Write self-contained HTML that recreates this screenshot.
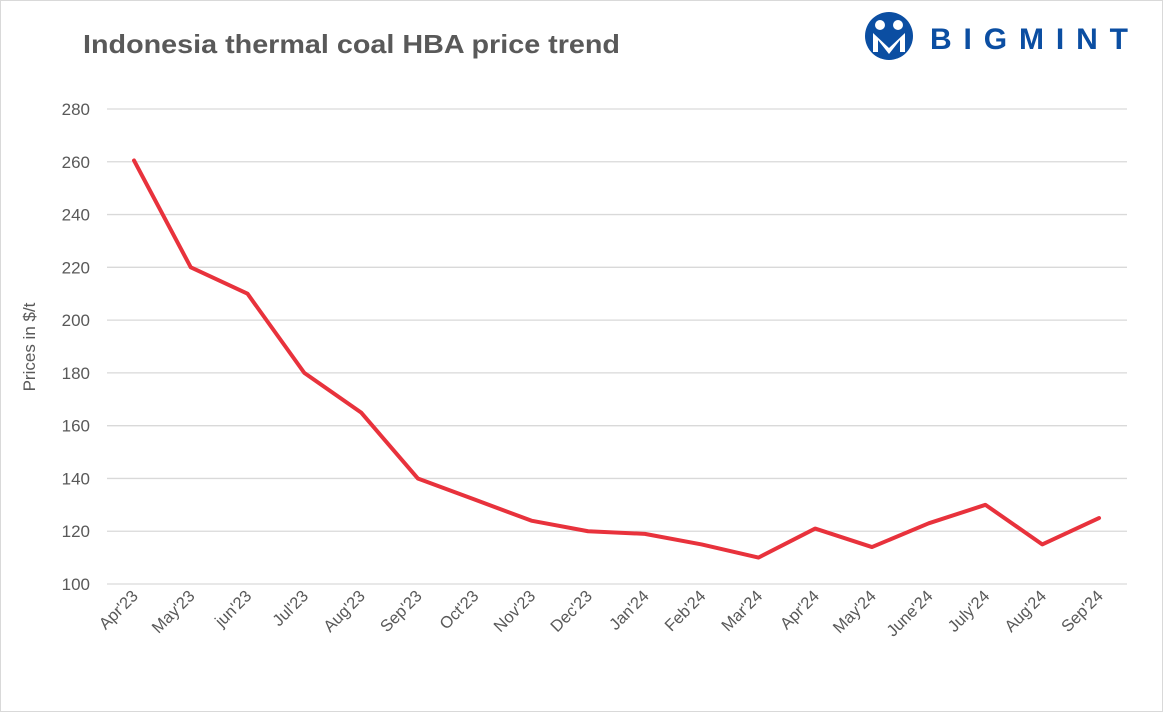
<!DOCTYPE html>
<html><head><meta charset="utf-8"><style>
body{margin:0;background:#fff;}
svg{display:block;font-family:"Liberation Sans",sans-serif;}
</style></head><body>
<svg id="chart" width="1163" height="712">
<rect x="0.5" y="0.5" width="1162" height="711" fill="#fff" stroke="#d9d9d9"/>
<text x="83" y="53" font-size="26" font-weight="bold" fill="#595959" textLength="537" lengthAdjust="spacingAndGlyphs">Indonesia thermal coal HBA price trend</text>
<g>
<circle cx="889" cy="36" r="24" fill="#0b4ea2"/>
<circle cx="880" cy="25" r="5" fill="#fff"/>
<circle cx="898" cy="25" r="5" fill="#fff"/>
<path d="M873 33 L873 52 L878 52 L878 40 L889 54 L900 40 L900 52 L905 52 L905 33 L889 48 Z" fill="#fff"/>
<text x="930" y="49" font-size="30" font-weight="bold" fill="#0b4ea2" textLength="198" lengthAdjust="spacing">BIGMINT</text>
</g>
<text transform="translate(35,347) rotate(-90)" text-anchor="middle" font-size="17" fill="#595959">Prices in $/t</text>
<g id="grid"></g><g id="xl"></g><g id="series"></g>
</svg>
<script>
const categories=["Apr'23","May'23","jun'23","Jul'23","Aug'23","Sep'23","Oct'23","Nov'23","Dec'23","Jan'24","Feb'24","Mar'24","Apr'24","May'24","June'24","July'24","Aug'24","Sep'24"];
const prices=[260.5,220,210,180,165,140,132,124,120,119,115,110,121,114,123,130,115,125];
const yTicks=[100,120,140,160,180,200,220,240,260,280];
const NS="http://www.w3.org/2000/svg";
const y=v=>584-(v-100)*(475/180);
const x=i=>134+i*(965/17);
function mk(t,a,p){const e=document.createElementNS(NS,t);for(const k in a)e.setAttribute(k,a[k]);p.appendChild(e);return e;}
const g=document.getElementById('grid');
yTicks.forEach(v=>{
 const l=mk('line',{x1:107,x2:1127,y1:y(v),y2:y(v),stroke:'#d9d9d9','stroke-width':1.3},g);
 
 
 const t=mk('text',{x:90,y:y(v)+6,'text-anchor':'end','font-size':17,fill:'#595959'},g);
 t.textContent=v;
 
 
});
const xl=document.getElementById('xl');
categories.forEach((c,i)=>{
 const t=mk('text',{transform:`translate(${x(i)+5},${597}) rotate(-45)`,'text-anchor':'end','font-size':16.5,fill:'#595959'},xl);
 t.textContent=c;
 
 
});
const s=document.getElementById('series');
const p=mk('polyline',{points:prices.map((v,i)=>x(i)+','+y(v)).join(' '),fill:'none',stroke:'#e8323c','stroke-width':4,'stroke-linejoin':'round','stroke-linecap':'round'},s);


</script>
</body></html>
